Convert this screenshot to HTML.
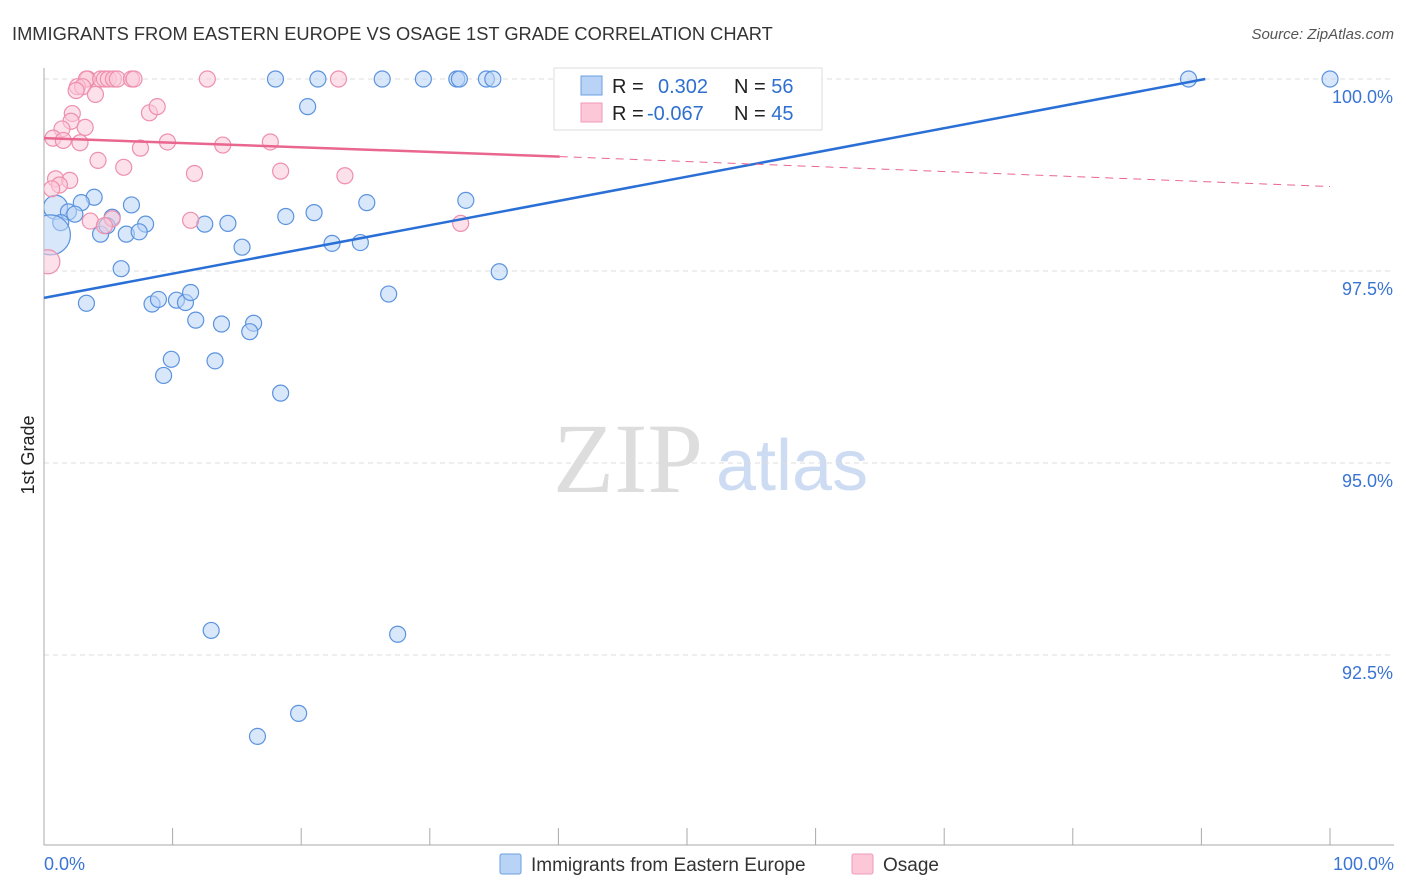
<!DOCTYPE html>
<html><head><meta charset="utf-8"><style>
body{margin:0;background:#fff;font-family:"Liberation Sans",sans-serif;}
#wrap{position:relative;width:1406px;height:892px;overflow:hidden;}
</style></head><body>
<div id="wrap">
<svg id="chart" width="1406" height="892">
<defs><clipPath id="plotclip"><rect x="44" y="60" width="1360" height="785"/></clipPath></defs>
<text x="12" y="40" font-size="18.3" fill="#333">IMMIGRANTS FROM EASTERN EUROPE VS OSAGE 1ST GRADE CORRELATION CHART</text>
<text x="1394" y="39" font-size="15" fill="#555" font-style="italic" text-anchor="end">Source: ZipAtlas.com</text>
<text x="34" y="455" font-size="18" fill="#222" transform="rotate(-90 34 455)" text-anchor="middle">1st Grade</text>
<text x="553" y="492" font-size="100" fill="#ddd" font-family="Liberation Serif,serif">ZIP</text>
<text x="716" y="490" font-size="72" fill="#cddcf2">atlas</text>
<g id="grid"></g><g id="ticks"></g><g id="pts" clip-path="url(#plotclip)"></g><g id="lines"></g>
<g>
<rect x="554" y="68" width="268" height="62" fill="#fff" stroke="#ddd"/>
<rect x="581" y="76" width="21" height="19" fill="#b8d3f5" stroke="#6a9fe0"/>
<rect x="581" y="103" width="21" height="19" fill="#fcc8d8" stroke="#f09ab4"/>
<text x="612" y="93" font-size="20" fill="#222">R = <tspan x="658" fill="#2f6fd0">0.302</tspan><tspan x="734" fill="#222">N = </tspan><tspan fill="#2f6fd0">56</tspan></text>
<text x="612" y="120" font-size="20" fill="#222">R = <tspan x="647" fill="#2f6fd0">-0.067</tspan><tspan x="734" fill="#222">N = </tspan><tspan fill="#2f6fd0">45</tspan></text>
</g>
<g>
<rect x="500" y="854" width="21" height="20" fill="#b8d3f5" stroke="#6a9fe0" rx="2"/>
<text x="531" y="871" font-size="19" fill="#333">Immigrants from Eastern Europe</text>
<rect x="852" y="854" width="21" height="20" fill="#fcc8d8" stroke="#f09ab4" rx="2"/>
<text x="883" y="871" font-size="19" fill="#333">Osage</text>
</g>
</svg></div>
<script>
const yTicks=[100,97.5,95,92.5];
const yTickLabels=["100.0%","97.5%","95.0%","92.5%"];
const xTickCount=11;
const xTickLabels=["0.0%","100.0%"];
// blue series (x %, y %)
const blueX=[18,21.3,26.3,29.5,32.1,32.3,34.4,34.9,89,100,20.5,3.9,2.9,6.8,25.1,32.8,0.9,1.9,2.4,1.3,5.3,7.9,12.5,14.3,18.8,21,4.4,6.4,7.4,4.9,15.4,22.4,24.6,6,35.4,3.3,8.4,8.9,10.3,11,11.4,26.8,11.8,13.8,16.3,16,9.9,13.3,9.3,18.4,13,27.5,19.8,16.6,0.5];
const blueY=[100,100,100,100,100,100,100,100,100,100,99.64,98.46,98.39,98.36,98.39,98.42,98.33,98.27,98.24,98.13,98.2,98.11,98.11,98.12,98.21,98.26,97.98,97.98,98.01,98.09,97.81,97.86,97.87,97.53,97.49,97.08,97.07,97.13,97.12,97.09,97.22,97.2,96.86,96.81,96.82,96.71,96.35,96.33,96.14,95.91,92.82,92.77,91.74,91.44,97.97];
const blueR=[8,8,8,8,8,8,8,8,8,8,8,8,8,8,8,8,12,8,8,8,8,8,8,8,8,8,8,8,8,8,8,8,8,8,8,8,8,8,8,8,8,8,8,8,8,8,8,8,8,8,8,8,8,8,20];
// pink series
const pinkX=[3.4,3.3,4.4,4.7,5,5.4,5.7,6.8,7,12.7,22.9,2.6,3,2.5,4,2.2,2.1,3.2,1.4,0.7,1.5,2.8,4.2,6.2,8.2,8.8,7.5,9.6,13.9,17.6,11.7,18.4,23.4,0.9,2,1.2,0.6,3.6,11.4,5.3,4.7,32.4,0.3];
const pinkY=[100,100,100,100,100,100,100,100,100,100,100,99.9,99.9,99.85,99.8,99.55,99.45,99.37,99.35,99.23,99.2,99.17,98.94,98.85,99.56,99.64,99.1,99.18,99.14,99.18,98.77,98.8,98.74,98.7,98.68,98.62,98.57,98.15,98.16,98.18,98.09,98.12,97.62];
const pinkR=[8,8,8,8,8,8,8,8,8,8,8,8,8,8,8,8,8,8,8,8,8,8,8,8,8,8,8,8,8,8,8,8,8,8,8,8,8,8,8,8,8,8,12];
const blueTrend=[[0,97.15],[90.3,100]];
const pinkTrend=[[0,99.23],[40.1,98.99],[100,98.6]];
const NS="http://www.w3.org/2000/svg";
const X0=44,X1=1330,Y100=79,PX_PER=76.8;
const sx=v=>X0+(X1-X0)*v/100;
const sy=v=>Y100+(100-v)*PX_PER;
function mk(tag,attrs,parent){const e=document.createElementNS(NS,tag);for(const k in attrs)e.setAttribute(k,attrs[k]);document.getElementById(parent).appendChild(e);return e;}
yTicks.forEach((t,i)=>{
 const l=mk('line',{x1:44,x2:1394,y1:sy(t),y2:sy(t),stroke:'#ddd','stroke-dasharray':'5,4'},'grid');
 
 
 const tx=mk('text',{x:1393,y:sy(t)+24,'font-size':18,fill:'#3a74d4','text-anchor':'end'},'ticks');
 tx.textContent=yTickLabels[i];
 
 
});
const ax=mk('line',{x1:44,x2:44,y1:68,y2:845,stroke:'#aaa'},'ticks');


const bx=mk('line',{x1:44,x2:1394,y1:845,y2:845,stroke:'#aaa'},'ticks');


for(let i=0;i<xTickCount;i++){
 const v=i*100/(xTickCount-1);
 const t=mk('line',{x1:sx(v),x2:sx(v),y1:828,y2:845,stroke:'#aaa'},'ticks');
 
 
}
[[0,'start',44],[100,'end',1394]].forEach((d,i)=>{
 const tx=mk('text',{x:d[2],y:870,'font-size':18,fill:'#3a74d4','text-anchor':d[1]},'ticks');
 tx.textContent=xTickLabels[i];
 
 
});
function pts(xs,ys,rs,fill,stroke,name){
 xs.forEach((x,i)=>{
  const c=mk('circle',{cx:sx(x),cy:sy(ys[i]),r:rs[i],fill:fill,'fill-opacity':0.55,stroke:stroke,'stroke-width':1.2},'pts');
  
  
 });
}
pts(blueX,blueY,blueR,'#b8d3f5','#5b93de','blue-point');
pts(pinkX,pinkY,pinkR,'#fcc8d8','#ee8fad','pink-point');
const bl=mk('line',{x1:sx(blueTrend[0][0]),y1:sy(blueTrend[0][1]),x2:sx(blueTrend[1][0]),y2:sy(blueTrend[1][1]),stroke:'#2a6fd6','stroke-width':2.5},'lines');


const pl=mk('line',{x1:sx(pinkTrend[0][0]),y1:sy(pinkTrend[0][1]),x2:sx(pinkTrend[1][0]),y2:sy(pinkTrend[1][1]),stroke:'#e9668f','stroke-width':2.5},'lines');


const pd=mk('line',{x1:sx(pinkTrend[1][0]),y1:sy(pinkTrend[1][1]),x2:sx(pinkTrend[2][0]),y2:sy(pinkTrend[2][1]),stroke:'#e9668f','stroke-width':1,'stroke-dasharray':'8,6'},'lines');


</script>
</body></html>
